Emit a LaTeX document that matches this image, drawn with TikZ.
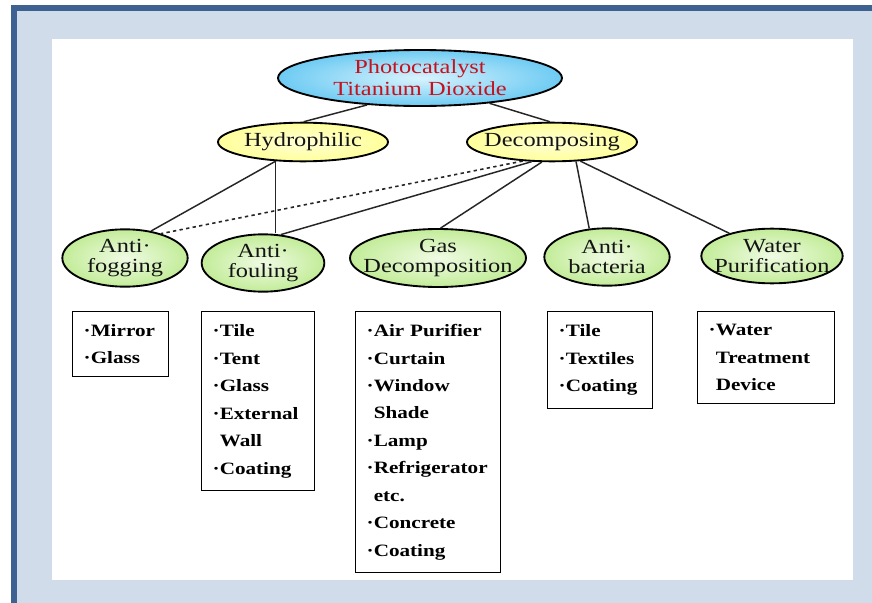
\documentclass[tikz,border=0pt]{standalone}
\usepackage{fontspec}
\setmainfont[FakeStretch=1.22]{Liberation Serif}
\usetikzlibrary{shapes.geometric}
\definecolor{framebg}{HTML}{D0DCEA}
\definecolor{framedark}{HTML}{3D6190}
\definecolor{topout}{HTML}{6ECBF3}
\definecolor{topin}{HTML}{D8F3FD}
\definecolor{yelout}{HTML}{FFFF9A}
\definecolor{yelin}{HTML}{FFFFD6}
\definecolor{grnout}{HTML}{C2EC98}
\definecolor{grnin}{HTML}{F0FBE4}
\definecolor{redtxt}{HTML}{C4121E}
\begin{document}
\begin{tikzpicture}[x=0.75pt,y=-0.75pt,
  ell/.style={ellipse, draw=black, line width=1.4pt, inner sep=0pt},
  topell/.style={ell, inner color=topin, outer color=topout, minimum width=213pt, minimum height=42pt},
  yel/.style={ell, inner color=yelin, outer color=yelout, minimum width=127.5pt, minimum height=29pt},
  grn/.style={ell, inner color=grnin, outer color=grnout},
  etext/.style={align=center, inner sep=0pt, text=black!92, font=\fontsize{15}{15.5}\selectfont},
  ttext/.style={align=center, inner sep=0pt, text=redtxt, font=\fontsize{15}{16.5}\selectfont},
  itembox/.style={draw=black, line width=1.1pt, anchor=north west, align=left, inner xsep=8.25pt, inner ysep=0pt,
     font=\fontsize{13}{20.6}\selectfont\bfseries},
  conn/.style={draw=black!85, line width=1.1pt},
  dconn/.style={draw=black!85, line width=1.2pt, dash pattern=on 2.5pt off 2.5pt}
]
\useasboundingbox (0,0) rectangle (872,603);
% frame
\fill[framebg] (11,5) rectangle (872,603);
\fill[framedark] (11,5) rectangle (872,11);
\fill[framedark] (11,5) rectangle (17,603);
\fill[white] (52,39) rectangle (853,580);

% ellipses
\node[topell] (top) at (420,78) {};
\node[ttext] (topt) at (top) {Photocatalyst\\Titanium Dioxide};
\node[yel] (hyd) at (303,142) {};
\node[etext] (hydt) at (hyd) {Hydrophilic};
\node[yel] (dec) at (552,142) {};
\node[etext] (dect) at (dec) {Decomposing};

\node[grn, minimum width=94pt, minimum height=43pt] (fog) at (125,258) {};
\node[etext] (fogt) at (fog) {Anti·\\fogging};
\node[grn, minimum width=92pt, minimum height=43pt] (foul) at (263,263) {};
\node[etext] (foult) at (foul) {Anti·\\fouling};
\node[grn, minimum width=132pt, minimum height=43.5pt] (gas) at (438,258) {};
\node[etext] (gast) at (gas) {Gas\\Decomposition};
\node[grn, minimum width=94pt, minimum height=43pt] (bact) at (607,257) {};
\node[etext] (bactt) at (bact) {Anti·\\bacteria};
\node[grn, minimum width=106pt, minimum height=41pt] (wat) at (772,256) {};
\node[etext] (watt) at (wat) {Water\\Purification};

% connectors
\draw[conn] (top.207) -- (hyd.88);
\draw[conn] (top.340) -- (dec.96);
\draw[conn] (hyd.215) -- (fog.46);
\draw[conn] (hyd.215) -- (hyd.215 |- foul.north);
\draw[dconn] (dec.213) -- (fog.34);
\draw[conn] (dec.224) -- (foul.58);
\draw[conn] (dec.243) -- (gas.85);
\draw[conn] (dec.321) -- (bact.122);
\draw[conn] (dec.326) -- (wat.152);

% item boxes
\node[itembox, text width=55.5pt, minimum height=48.75pt] (b1) at (72,311)
  {·Mirror\\·Glass};
\node[itembox, text width=68.25pt, minimum height=134.25pt] (b2) at (201,311)
  {·Tile\\·Tent\\·Glass\\·External\\\phantom{·}Wall\\·Coating};
\node[itembox, text width=92.25pt, minimum height=195.75pt] (b3) at (355,311)
  {·Air~Purifier\\·Curtain\\·Window\\\phantom{·}Shade\\·Lamp\\·Refrigerator\\\phantom{·}etc.\\·Concrete\\·Coating};
\node[itembox, text width=62.25pt, minimum height=72.75pt] (b4) at (547,311)
  {·Tile\\·Textiles\\·Coating};
\node[itembox, text width=86.25pt, minimum height=69pt] (b5) at (697,311)
  {·Water\\\phantom{·}Treatment\\\phantom{·}Device};
\end{tikzpicture}
\end{document}
